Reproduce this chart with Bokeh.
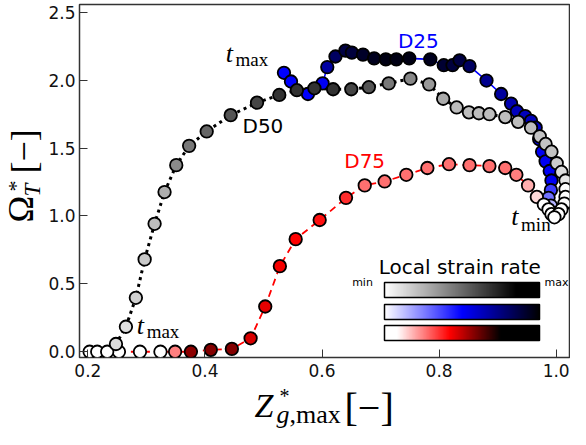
import math
import numpy as np
from bokeh.plotting import figure
from bokeh.models import (ColumnDataSource, LinearColorMapper, FixedTicker, Label,
                          ColorBar, PrintfTickFormatter)
from bokeh.layouts import row, column
from bokeh.transform import transform
from bokeh.embed import file_html
from bokeh.resources import INLINE

# ---------------- data ----------------
d50_z = [0.203, 0.216, 0.233, 0.248, 0.265, 0.282, 0.297, 0.314, 0.331, 0.351, 0.373, 0.403,
         0.444, 0.489, 0.527, 0.557, 0.587, 0.619, 0.650, 0.680, 0.714, 0.751, 0.783, 0.807,
         0.830, 0.851, 0.868, 0.886, 0.913, 0.935, 0.957, 0.972, 0.982, 0.992, 1.001, 1.009,
         1.016, 1.016, 1.016, 1.014, 1.009, 1.004, 0.997]
d50_om = [0.0, 0.0, 0.0, 0.057, 0.184, 0.397, 0.68, 0.942, 1.176, 1.374, 1.516, 1.622,
          1.742, 1.834, 1.891, 1.926, 1.94, 1.933, 1.933, 1.948, 1.976, 2.011, 1.969, 1.863,
          1.799, 1.763, 1.756, 1.749, 1.728, 1.693, 1.65, 1.586, 1.53, 1.473, 1.388, 1.324,
          1.261, 1.197, 1.14, 1.091, 1.048, 1.013, 0.99]
d50_rate = [0.0, 0.0, 0.0, 0.12, 0.11, 0.16, 0.18, 0.22, 0.27, 0.39, 0.45, 0.51,
            0.57, 0.62, 0.68, 0.68, 0.68, 0.68, 0.62, 0.57, 0.45, 0.40, 0.34, 0.28,
            0.22, 0.22, 0.22, 0.22, 0.22, 0.22, 0.22, 0.20, 0.20, 0.20, 0.17, 0.12,
            0.08, 0.0, 0.0, 0.0, 0.0, 0.0, 0.0]

d25_z = [0.535, 0.547, 0.576, 0.601, 0.609, 0.623, 0.640, 0.651, 0.670, 0.689, 0.709, 0.727,
         0.749, 0.785, 0.808, 0.823, 0.835, 0.852, 0.881, 0.906, 0.923, 0.933, 0.947, 0.957,
         0.965, 0.971, 0.976, 0.982, 0.989, 0.992, 0.991, 0.987, 0.991, 0.996]
d25_om = [2.054, 1.99, 1.898, 1.976, 2.096, 2.174, 2.217, 2.203, 2.188, 2.16, 2.153, 2.153,
          2.16, 2.153, 2.11, 2.11, 2.146, 2.103, 1.997, 1.898, 1.827, 1.771, 1.735, 1.7,
          1.65, 1.565, 1.473, 1.402, 1.331, 1.261, 1.19, 1.133, 1.076, 1.02]
d25_rate = [0.5, 0.5, 0.5, 0.52, 0.68, 0.81, 0.87, 0.88, 0.92, 0.94, 0.96, 0.96,
            0.96, 0.94, 0.9, 0.88, 0.87, 0.81, 0.72, 0.69, 0.66, 0.63, 0.63, 0.63,
            0.6, 0.56, 0.52, 0.52, 0.52, 0.52, 0.38, 0.28, 0.15, 0.05]

d75_z = [0.253, 0.289, 0.324, 0.349, 0.376, 0.410, 0.446, 0.478, 0.503, 0.528, 0.555, 0.596,
         0.641, 0.673, 0.707, 0.744, 0.780, 0.817, 0.852, 0.886, 0.913, 0.932, 0.952, 0.967,
         0.979, 0.987, 0.992]
d75_om = [0.0, 0.0, 0.0, 0.0, 0.0, 0.014, 0.021, 0.099, 0.333, 0.63, 0.829, 0.97,
          1.133, 1.225, 1.254, 1.303, 1.353, 1.381, 1.374, 1.367, 1.353, 1.303, 1.225, 1.14,
          1.084, 1.048, 1.013]
d75_rate = [0.0, 0.0, 0.0, 0.25, 0.57, 0.58, 0.58, 0.47, 0.45, 0.43, 0.42, 0.40,
            0.36, 0.27, 0.27, 0.27, 0.27, 0.27, 0.27, 0.27, 0.27, 0.25, 0.19, 0.13,
            0.0, 0.0, 0.0]

x_ticks = [0.2, 0.4, 0.6, 0.8, 1.0]
y_ticks = [0.0, 0.5, 1.0, 1.5, 2.0, 2.5]


# ---------------- colormaps ----------------
def make_palette(stops, n=256):
    pos = [s[0] for s in stops]
    rgb = np.array([[int(c[i:i + 2], 16) for i in (1, 3, 5)] for _, c in stops], float)
    t = np.linspace(0, 1, n)
    ch = [np.interp(t, pos, rgb[:, k]) for k in range(3)]
    return ["#%02x%02x%02x" % (int(round(r)), int(round(g)), int(round(b)))
            for r, g, b in zip(*ch)]


grey_pal = make_palette([(0, "#ffffff"), (0.85, "#000000"), (1, "#000000")])
blue_pal = make_palette([(0, "#ffffff"), (0.5, "#0000ff"), (1, "#000000")])
red_pal = make_palette([(0, "#ffffff"), (0.08, "#ffffff"), (0.42, "#ff0000"),
                        (0.75, "#000000"), (1, "#000000")])
grey_map = LinearColorMapper(palette=grey_pal, low=0, high=1)
blue_map = LinearColorMapper(palette=blue_pal, low=0, high=1)
red_map = LinearColorMapper(palette=red_pal, low=0, high=1)

# ---------------- geometry (screen px) ----------------
OX, OY = 3, 0                 # where the page content appears on screen
WY = 45                       # width of the y-label strip
WM, HM = 570 - WY, 384        # main figure
HX = 429 - HM                 # x-label strip height
BL, BR, BT, BB = 33, 1, 4, 27  # main figure borders
X0, X1 = 0.1857, 1.0228
Y0, Y1 = -0.0425, 2.557

SERIF = "Liberation Serif"
SANS = "DejaVu Sans"
# distance (in em) from the alphabetic baseline up to the centre of the font box
MIDK = {SERIF: 0.3375, SANS: 0.346}


def base_fig(**kw):
    f = figure(output_backend="svg", toolbar_location=None, **kw)
    f.background_fill_color = "white"
    f.border_fill_color = "white"
    return f


# ---------------- main figure ----------------
p = base_fig(width=WM, height=HM, x_range=(X0, X1), y_range=(Y0, Y1),
             min_border_left=BL, min_border_right=BR, min_border_top=BT, min_border_bottom=BB)
p.xgrid.visible = False
p.ygrid.visible = False
p.outline_line_color = "#333333"
p.outline_line_width = 1.5

for ax in (p.xaxis[0], p.yaxis[0]):
    ax.axis_line_color = None
    ax.major_tick_in = 8
    ax.major_tick_out = 0
    ax.major_tick_line_color = "#333333"
    ax.major_tick_line_width = 1
    ax.minor_tick_line_color = None
    ax.major_label_text_font = SANS
    ax.major_label_text_font_size = "17px"
    ax.major_label_text_color = "#111111"
    ax.formatter = PrintfTickFormatter(format="%.1f")
p.xaxis.ticker = FixedTicker(ticks=x_ticks)
p.yaxis.ticker = FixedTicker(ticks=y_ticks)
p.xaxis.major_label_standoff = 6
p.yaxis.major_label_standoff = 4

# lines
p.line(d25_z, d25_om, line_color="#0000ff", line_width=1.6)
p.line(d75_z, d75_om, line_color="#ff0000", line_width=1.8, line_dash="7 5")
p.line(d50_z, d50_om, line_color="black", line_width=3, line_dash="3 4")

# markers coloured by local strain rate
for z, om, r, m in ((d25_z, d25_om, d25_rate, blue_map),
                    (d75_z, d75_om, d75_rate, red_map),
                    (d50_z, d50_om, d50_rate, grey_map)):
    src = ColumnDataSource(dict(z=z, om=om, s=r))
    p.scatter("z", "om", source=src, size=12.5, fill_color=transform("s", m),
              line_color="black", line_width=1.8)

# data units per screen pixel inside the frame
DY = (Y1 - Y0) / (HM - BT - BB)


# in-plot labels, placed in data space (from reference pixel positions of the baseline)
def rx(px):
    return 0.2 + (px - 93.5) / 592.5


def ry(py):
    return (366 - py) / 141.2


def dlab(px, py, text, size, font=SANS, style="normal", color="black", align="left"):
    yy = ry(py) + MIDK[font] * size * DY
    p.add_layout(Label(x=rx(px), y=yy, text=text, text_font=font,
                       text_font_size=f"{size}px", text_font_style=style,
                       text_color=color, text_align=align, text_baseline="middle"))


dlab(428, 50, "D25", 20, color="#0000ff", align="center")
dlab(250, 138, "D50", 20)
dlab(353, 175, "D75", 20, color="#ff0000")
dlab(233, 65, "t", 26, SERIF, "italic")
dlab(243, 69, "max", 19, SERIF)
dlab(143, 348, "t", 26, SERIF, "italic")
dlab(153, 352, "max", 19, SERIF)
dlab(522, 234, "t", 26, SERIF, "italic")
dlab(532, 240, "min", 19, SERIF)

# strain-rate legend
dlab(470, 285, "Local strain rate", 20, align="center")
dlab(382, 298, "min", 11, align="right")
dlab(580, 298, "max", 11, align="right")
sx = (WM - BL - BR) / 496.0
sy = (HM - BT - BB) / 367.0
for m, top in ((grey_map, 294), (blue_map, 316), (red_map, 338)):
    cb = ColorBar(color_mapper=m, orientation="horizontal",
                  location=(round((393 - 85) * sx), round((372 - top - 16) * sy)),
                  width=round(157 * sx), height=round(16 * sy), padding=0,
                  ticker=FixedTicker(ticks=[]), major_tick_line_color=None,
                  minor_tick_line_color=None, bar_line_color="black", bar_line_width=1.5,
                  background_fill_alpha=0, border_line_color=None)
    p.add_layout(cb, "center")

# ---------------- y-label strip ----------------
yl = base_fig(width=WY, height=HM, x_range=(OX, OX + WY), y_range=(-(OY + HM - BB), -(OY + BT)),
              x_axis_type=None, y_axis_type=None, min_border_left=0, min_border_right=0,
              min_border_top=BT, min_border_bottom=BB)
yl.outline_line_color = None

# ---------------- x-label strip ----------------
xl = base_fig(width=570, height=HX, x_range=(OX, OX + 570), y_range=(-(OY + 429), -(OY + HM)),
              x_axis_type=None, y_axis_type=None, min_border_left=0, min_border_right=0,
              min_border_top=0, min_border_bottom=0)
xl.outline_line_color = None


def slab(f, bx, by, text, size, style="normal", rotated=False):
    k = MIDK[SERIF] * size
    if rotated:            # text runs upwards, its "down" points to +x on screen
        x, y, ang = bx - k, by, math.pi / 2
    else:
        x, y, ang = bx, by - k, 0.0
    f.add_layout(Label(x=x, y=-y, text=text, text_font=SERIF,
                       text_font_size=f"{size}px", text_font_style=style,
                       text_color="black", text_align="left", text_baseline="middle",
                       angle=ang))


# y axis label  Ω*_T [−]
slab(yl, 36, 222, "Ω", 36, rotated=True)
slab(yl, 25, 191, "*", 22, rotated=True)
slab(yl, 42.5, 196, "T", 23, "italic", rotated=True)
slab(yl, 39, 173, "[−]", 36, rotated=True)

# x axis label  Z*_{g,max} [−]
slab(xl, 257, 416, "Z", 34, "italic")
slab(xl, 282, 402, "*", 20)
slab(xl, 279, 423, "g", 26, "italic")
slab(xl, 292, 423, ",max", 26)
slab(xl, 347, 420, "[−]", 40)

layout = column(row(yl, p), xl)
open("out.html", "w").write(file_html(layout, INLINE))
